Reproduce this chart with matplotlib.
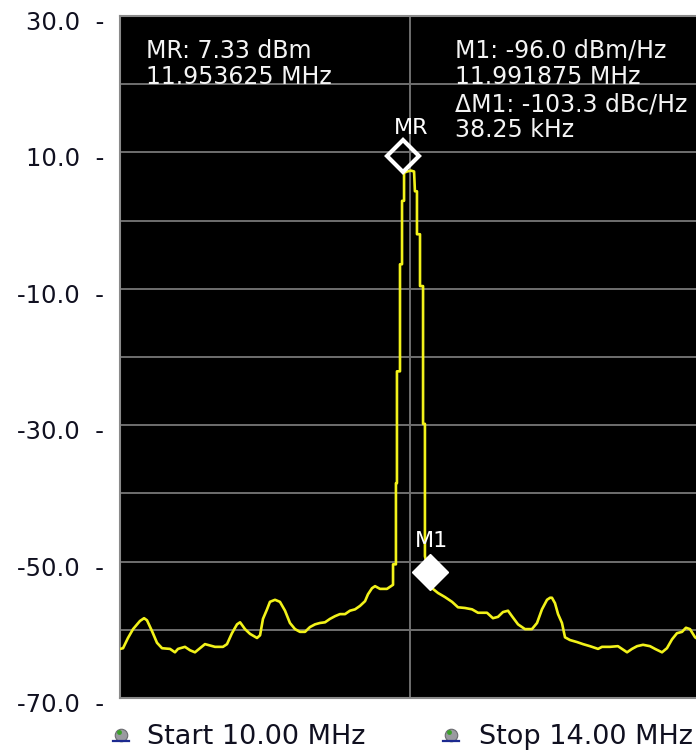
import numpy as np
import matplotlib
matplotlib.use("Agg")
import matplotlib.pyplot as plt
from matplotlib.lines import Line2D
from matplotlib.transforms import offset_copy, ScaledTranslation

# ---- spectrum trace (MHz, dBm) ----
freq_mhz = [
    10.000, 10.021, 10.055, 10.090, 10.138, 10.166, 10.186, 10.221, 10.255, 10.290,
    10.345, 10.379, 10.400, 10.448, 10.483, 10.517, 10.552, 10.586, 10.621, 10.655,
    10.710, 10.738, 10.772, 10.807, 10.828, 10.862, 10.897, 10.945, 10.966, 10.986,
    11.014, 11.034, 11.069, 11.103, 11.138, 11.172, 11.207, 11.241, 11.276, 11.310,
    11.345, 11.379, 11.414, 11.448, 11.483, 11.517, 11.552, 11.586, 11.621, 11.655,
    11.690, 11.710, 11.738, 11.759, 11.793, 11.841, 11.862, 11.883,
    11.883, 11.903, 11.903, 11.910, 11.910, 11.931, 11.931, 11.945, 11.945, 11.959,
    11.959, 11.979, 12.007, 12.028,
    12.034, 12.048, 12.048, 12.069, 12.069, 12.090, 12.090, 12.103, 12.103,
    12.117, 12.138, 12.152, 12.193, 12.241, 12.290, 12.331, 12.379, 12.428, 12.469,
    12.531, 12.572, 12.607, 12.641, 12.676, 12.703, 12.745, 12.793, 12.841, 12.876,
    12.910, 12.945, 12.966, 12.979, 13.000, 13.021, 13.048, 13.069, 13.103, 13.152,
    13.193, 13.241, 13.297, 13.324, 13.379, 13.434, 13.462, 13.497, 13.531, 13.566,
    13.607, 13.655, 13.690, 13.738, 13.772, 13.807, 13.841, 13.876, 13.903, 13.931,
    13.966, 14.000,
]
level_dbm = [
    -62.8, -62.7, -61.2, -59.9, -58.7, -58.3, -58.6, -60.2, -61.9, -62.7,
    -62.8, -63.3, -62.8, -62.5, -63.0, -63.3, -62.7, -62.1, -62.3, -62.5,
    -62.5, -62.1, -60.5, -59.2, -58.9, -59.9, -60.6, -61.2, -60.8, -58.4,
    -57.0, -55.9, -55.6, -55.9, -57.2, -59.0, -59.9, -60.3, -60.3, -59.6,
    -59.2, -59.0, -58.9, -58.4, -58.0, -57.7, -57.7, -57.2, -57.0, -56.5,
    -55.8, -54.8, -53.9, -53.6, -54.0, -54.0, -53.7, -53.4,
    -50.4, -50.4, -38.5, -38.5, -22.1, -22.1, -6.4, -6.4, 2.9, 2.9,
    7.0, 7.2, 7.33, 7.2,
    4.3, 4.3, -2.0, -2.0, -9.6, -9.6, -29.8, -29.8, -49.2,
    -50.6, -52.1, -53.9, -54.6, -55.2, -55.9, -56.7, -56.8, -57.0, -57.5,
    -57.5, -58.3, -58.1, -57.4, -57.2, -58.0, -59.2, -59.9, -59.9, -59.0,
    -57.0, -55.6, -55.3, -55.3, -56.1, -57.7, -59.0, -61.1, -61.5, -61.8,
    -62.1, -62.4, -62.8, -62.5, -62.5, -62.4, -62.8, -63.3, -62.8, -62.4,
    -62.2, -62.4, -62.8, -63.3, -62.7, -61.4, -60.5, -60.3, -59.7, -59.9,
    -61.1, -61.6,
]

# ---- sweep / scale settings ----
start_mhz, stop_mhz, center_mhz = 10.0, 14.0, 12.0
ref_top, ref_bottom = 30.0, -70.0
grid_levels = np.arange(-70, 31, 10)
labelled_levels = [-70, -50, -30, -10, 10, 30]

# ---- markers ----
mr_freq_mhz = 11.953625
mr_level_dbm = 7.33
m1_freq_mhz = 11.991875
m1_density_dbm_hz = -96.0
m1_delta_dbc_hz = -103.3
m1_offset_khz = 38.25
# position of the M1 symbol on the displayed trace
m1_trace_freq = 12.138
m1_trace_level = -51.5

W, H = 696, 754
fig = plt.figure(figsize=(W / 100, H / 100), dpi=100)
fig.patch.set_facecolor("white")

def fpos(x, y):
    return x / W, 1 - y / H

ax = fig.add_axes([120 / W, (H - 698) / H, 580 / W, 682 / H])
ax.set_facecolor("black")
ax.set_xlim(start_mhz, stop_mhz)
ax.set_ylim(ref_bottom, ref_top)

grid_color = "#6e6e6e"
for lv in grid_levels:
    ax.axhline(lv, color=grid_color, lw=1.4, zorder=1)
ax.axvline(center_mhz, color=grid_color, lw=1.4, zorder=1)

for side, sp in ax.spines.items():
    sp.set_color("#8a8a8a")
    sp.set_linewidth(1.5)

ax.set_xticks([])
ax.set_yticks(grid_levels)
ax.set_yticklabels([f"{v:.1f}  -" if v in labelled_levels else "" for v in grid_levels])
ax.tick_params(axis="y", length=0, pad=11.5, labelsize=17.5, labelcolor="#101020")
for lab in ax.get_yticklabels():
    lab.set_transform(lab.get_transform() + ScaledTranslation(0, -4.5 / 100, fig.dpi_scale_trans))

# trace
ax.plot(freq_mhz, level_dbm, color="#f2f21a", lw=1.9, zorder=3)

# MR marker (drawn just above the peak it marks)
mr_trans = offset_copy(ax.transData, fig=fig, x=0, y=15, units="dots")
ax.plot([mr_freq_mhz], [mr_level_dbm], marker="D", ms=16.5, mfc="none", mec="white",
        mew=3.0, transform=mr_trans, zorder=5, clip_on=False)
ax.annotate("MR", xy=(mr_freq_mhz, mr_level_dbm), xytext=(8, 43),
            textcoords="offset pixels", ha="center", va="center",
            color="white", fontsize=16, zorder=6)

# M1 marker
ax.plot([m1_trace_freq], [m1_trace_level], marker="D", ms=18.5, mfc="white",
        mec="white", mew=1, zorder=5)
ax.annotate("M1", xy=(m1_trace_freq, m1_trace_level), xytext=(1, 31),
            textcoords="offset pixels", ha="center", va="center",
            color="white", fontsize=16, zorder=6)

# marker readouts
txt_kw = dict(color="#f4f4f4", fontsize=17, va="center", ha="left")
fig.text(*fpos(146, 51), f"MR: {mr_level_dbm:.2f} dBm", **txt_kw)
fig.text(*fpos(146, 77), f"{mr_freq_mhz:.6f} MHz", **txt_kw)
fig.text(*fpos(455, 51), f"M1: {m1_density_dbm_hz:.1f} dBm/Hz", **txt_kw)
fig.text(*fpos(455, 77), f"{m1_freq_mhz:.6f} MHz", **txt_kw)
fig.text(*fpos(455, 104), f"\u0394M1: {m1_delta_dbc_hz:.1f} dBc/Hz", **txt_kw)
fig.text(*fpos(455, 130), f"{m1_offset_khz:.2f} kHz", **txt_kw)

# start / stop footer with small icons
def icon(x, y):
    fx, fy = fpos(x, y)
    fig.add_artist(Line2D([fx], [fy], marker="o", ms=9, mfc="#9a9aa0", mec="#6a6a70",
                          mew=0.8, transform=fig.transFigure))
    gx, gy = fpos(x - 2, y - 3)
    fig.add_artist(Line2D([gx], [gy], marker="o", ms=3.5, mfc="#3aa02a", mec="none",
                          transform=fig.transFigure))
    bx0, by = fpos(x - 8, y + 6)
    bx1, _ = fpos(x + 8, y + 6)
    fig.add_artist(Line2D([bx0, bx1], [by, by], color="#1c2a90", lw=1.6,
                          transform=fig.transFigure))

foot_kw = dict(color="#101020", fontsize=19.5, va="center", ha="left")
icon(121, 735)
fig.text(*fpos(147, 737), f"Start {start_mhz:.2f} MHz", **foot_kw)
icon(451, 735)
fig.text(*fpos(479, 737), f"Stop {stop_mhz:.2f} MHz", **foot_kw)

fig.savefig("out.png", dpi=100, facecolor=fig.get_facecolor())
